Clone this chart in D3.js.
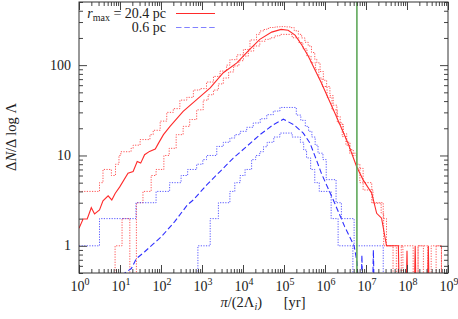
<!DOCTYPE html>
<html>
<head>
<meta charset="utf-8">
<script src="https://cdn.jsdelivr.net/npm/d3@7"></script>
<style>
  body{margin:0;background:#fff}
</style>
</head>
<body>
<svg id="chart" width="458" height="319" font-family="'Liberation Serif', 'DejaVu Serif', serif"></svg>
<script>
// x values are log10(pi/(2 Lambda_i) / yr), y values are dN/dlogLambda
// 0.1 / 0.3 = empty bin (drawn below the axis, clipped)
const redMidLx = [0, 0.1, 0.2, 0.3, 0.38, 0.5, 0.585, 0.71, 0.8, 0.885, 0.99, 1.195, 1.32, 1.42, 1.505, 1.6, 1.72, 1.86, 1.94, 2.06, 2.22, 2.54, 2.87, 3.2, 3.52, 3.85, 4.17, 4.41, 4.7, 4.93, 5.1, 5.27, 5.43, 5.59, 5.91, 6.24, 6.56, 6.77, 6.93, 7.14, 7.26, 7.38, 7.5, 7.79, 7.81, 7.98, 8.0, 8.02, 8.18, 8.2, 8.22, 8.5, 8.52, 8.54];
const redMidY  = [1.56, 1.98, 1.98, 2.64, 2.25, 2.49, 3.14, 3.57, 3.22, 3.82, 4.46, 6.37, 6.64, 8.58, 8.23, 10.2, 11.1, 11.8, 13.7, 17, 21, 30.8, 41.6, 56.1, 82.4, 106, 150, 193, 232, 249, 243, 215, 168, 126, 63.7, 29.6, 13.7, 7.55, 5.37, 3.82, 2.29, 2.02, 1, 1, 0.3, 0.3, 0.88, 0.3, 0.3, 1, 0.3, 0.3, 1, 0.3];

const redHiLx = [0, 0.5, 0.585, 0.79, 0.89, 0.975, 1.02, 1.27, 1.32, 1.49, 1.73, 1.81, 1.98, 2.14, 2.3, 2.46, 2.63, 2.79, 2.95, 3.11, 3.28, 3.44, 3.6, 3.68, 3.85, 4.01, 4.17, 4.33, 4.41, 4.5, 4.58, 4.66, 4.78, 4.9, 5.03, 5.15, 5.25, 5.35, 5.43, 5.51, 5.59, 5.67, 5.75, 5.8, 5.88, 5.96, 6.04, 6.12, 6.2, 6.29, 6.37, 6.45, 6.53, 6.61, 6.69, 6.77, 6.85, 7.14, 7.42, 7.5, 7.74, 7.86, 8.15, 8.27, 8.51, 8.59, 8.84];
const redHiY  = [4, 5, 7, 6, 8, 10, 11, 12, 13, 15, 17, 19, 24, 30, 33, 41, 44, 53, 55, 65, 75, 86, 100, 115, 130, 149, 190, 219, 239, 248, 255, 261, 265, 267, 265, 260, 240, 219, 200, 179, 163, 138, 116, 106, 85, 68, 58, 46, 36, 27, 22, 17.4, 14, 11.6, 10, 8, 5, 3, 2, 1, 0.1, 1, 0.1, 1, 0.1, 1, 0.1];

const redLoLx = [0.7, 0.88, 1.05, 1.24, 1.4, 1.56, 1.76, 1.88, 2.07, 2.2, 2.37, 2.54, 2.7, 2.87, 3.03, 3.15, 3.28, 3.4, 3.52, 3.65, 3.77, 3.9, 4.01, 4.13, 4.26, 4.41, 4.54, 4.66, 4.78, 4.9, 5.2, 5.36, 5.46, 5.56, 5.66, 5.77, 5.85, 5.93, 6.05, 6.17, 6.3, 6.42, 6.51, 6.6, 6.77, 6.93, 7.17, 7.37, 7.43, 7.66, 7.79, 7.9, 8.27, 8.4, 8.71, 8.84];
const redLoY  = [0.1, 1, 2, 0.1, 3, 4, 6, 7, 10, 12, 17, 21, 25, 32, 41, 47, 53, 62, 72, 84, 98, 112, 126, 143, 163, 184, 193, 201, 211, 219, 201, 178, 152, 126, 106, 89, 72, 58, 44, 32, 23, 16.2, 13, 10.6, 7.2, 4.15, 2.96, 2.3, 1, 0.1, 1, 0.1, 1, 0.1, 1, 0.1];

const blueMidLx = [1.0, 1.115, 1.276, 1.398, 1.602, 2.007, 2.334, 2.641, 2.788, 3.115, 3.439, 3.763, 4.09, 4.415, 4.739, 4.983, 5.24, 5.47, 5.634, 5.79, 5.91, 6.237, 6.48, 6.71, 6.78, 6.83, 6.88, 6.9, 6.92, 7.16, 7.18, 7.2];
const blueMidY  = [0.3, 0.5, 0.56, 0.72, 0.86, 1.26, 1.85, 2.83, 3.22, 4.72, 6.64, 9.35, 12.6, 17, 21.9, 25.2, 21.9, 17.7, 13.7, 8.96, 6.37, 2.96, 1.63, 1, 0.66, 0.3, 0.3, 0.79, 0.3, 0.3, 0.9, 0.3];

const blueHiLx = [0, 0.5, 1.39, 1.88, 2.21, 2.49, 2.65, 2.87, 3.02, 3.11, 3.36, 3.52, 3.68, 3.8, 3.93, 4.09, 4.25, 4.42, 4.58, 4.74, 4.9, 5.3, 5.41, 5.52, 5.6, 5.68, 5.76, 5.83, 5.95, 6.03, 6.27, 6.4, 6.71, 7.42];
const blueHiY  = [1, 2, 3, 4, 5, 6, 7, 8, 9, 10, 12.6, 14, 15.6, 17, 18.5, 20.5, 22.9, 25.5, 28.3, 31, 34, 28, 24.5, 21, 18.5, 16, 13, 10.6, 9, 5.4, 3, 2, 1, 0.1];

const blueLoLx = [2.7, 2.9, 3.2, 3.4, 3.68, 3.8, 3.93, 4.05, 4.21, 4.31, 4.41, 4.5, 4.59, 4.75, 4.9, 5.2, 5.4, 5.48, 5.55, 5.65, 5.75, 5.86, 6.15, 6.32, 6.68];
const blueLoY  = [0.1, 1, 2, 3, 4, 5, 6, 7, 9, 10, 11, 12.5, 14, 16, 17.7, 16, 14, 11.5, 9.4, 7, 5, 4, 2, 1, 0.1];

const markT = 6e6;           // vertical green line [yr]
const xMajor = [1e0, 1e1, 1e2, 1e3, 1e4, 1e5, 1e6, 1e7, 1e8, 1e9];
const xExp   = ['0','1','2','3','4','5','6','7','8','9'];
const yMajor = [1, 10, 100];
const yLabels = ['1', '10', '100'];

const svg = d3.select('#chart');
const L = 79, R = 448, T = 2, B = 273;
const x = d3.scaleLog().domain([1, 1e9]).range([L, R]);
const y = d3.scaleLog().domain([0.5, 500]).range([B, T]);

const pts = (lx, v) => lx.map((e, i) => [Math.pow(10, e), v[i]]);
const line = d3.line().x(d => x(d[0])).y(d => y(d[1]));
const step = d3.line().curve(d3.curveStepAfter).x(d => x(d[0])).y(d => y(d[1]));

svg.append('clipPath').attr('id', 'clip')
  .append('rect').attr('x', L).attr('y', T).attr('width', R - L).attr('height', B - T);

const plot = svg.append('g').attr('clip-path', 'url(#clip)');

const red = '#ff2a2a', blue = '#2f2fff';
const dot = '1.2,1.4';

[[redHiLx, redHiY, red], [redLoLx, redLoY, red], [blueHiLx, blueHiY, blue], [blueLoLx, blueLoY, blue]]
  .forEach(([lx, v, c]) => {
    plot.append('path').attr('d', step(pts(lx, v)))
      .attr('fill', 'none').attr('stroke', c).attr('stroke-width', 1)
      .attr('stroke-dasharray', dot).attr('opacity', 0.8);
  });

plot.append('path').attr('d', line(pts(blueMidLx, blueMidY)))
  .attr('fill', 'none').attr('stroke', blue).attr('stroke-width', 1.1).attr('stroke-dasharray', '5.5,2.8');
plot.append('path').attr('d', line(pts(redMidLx, redMidY)))
  .attr('fill', 'none').attr('stroke', red).attr('stroke-width', 1.1);

plot.append('line').attr('x1', x(markT)).attr('x2', x(markT)).attr('y1', T).attr('y2', B)
  .attr('stroke', '#5fa85a').attr('stroke-width', 1.6);

// ticks (inward, mirrored)
const xMinor = [], yMinor = [];
for (let k = 0; k < 9; k++) for (let m = 2; m < 10; m++) xMinor.push(m * Math.pow(10, k));
for (let k = -1; k < 3; k++) for (let m = 2; m < 10; m++) {
  const v = m * Math.pow(10, k);
  if (v >= 0.5 && v <= 500) yMinor.push(v);
}
function addAxis(axis, tx, ty) {
  const g = svg.append('g').attr('transform', `translate(${tx},${ty})`).call(axis);
  g.select('.domain').remove();
  g.selectAll('line').attr('stroke', '#444');
  return g;
}
addAxis(d3.axisBottom(x).tickValues(xMajor).tickSize(-8).tickFormat(''), 0, B);
addAxis(d3.axisBottom(x).tickValues(xMinor).tickSize(-4).tickFormat(''), 0, B);
addAxis(d3.axisTop(x).tickValues(xMajor).tickSize(-8).tickFormat(''), 0, T);
addAxis(d3.axisTop(x).tickValues(xMinor).tickSize(-4).tickFormat(''), 0, T);
addAxis(d3.axisLeft(y).tickValues(yMajor).tickSize(-8).tickFormat(''), L, 0);
addAxis(d3.axisLeft(y).tickValues(yMinor).tickSize(-4).tickFormat(''), L, 0);
addAxis(d3.axisRight(y).tickValues(yMajor).tickSize(-8).tickFormat(''), R, 0);
addAxis(d3.axisRight(y).tickValues(yMinor).tickSize(-4).tickFormat(''), R, 0);

svg.append('rect').attr('x', L).attr('y', T).attr('width', R - L).attr('height', B - T)
  .attr('fill', 'none').attr('stroke', '#333').attr('stroke-width', 1);

const txt = sel => sel.attr('font-family', "'Liberation Serif', 'DejaVu Serif', serif").attr('fill', '#222');

// tick labels
const xl = svg.append('g').selectAll('text').data(xMajor).join('text').call(txt)
  .attr('x', d => x(d) + 1).attr('y', 291).attr('text-anchor', 'middle').attr('font-size', 14);
xl.append('tspan').text('10');
xl.append('tspan').attr('dy', -6).attr('font-size', 10).text((d, i) => xExp[i]);

svg.append('g').selectAll('text').data(yMajor).join('text').call(txt)
  .attr('x', 71).attr('y', d => y(d)).attr('dy', '0.33em').attr('text-anchor', 'end')
  .attr('font-size', 14).text((d, i) => yLabels[i]);

// axis titles
const xt = svg.append('text').call(txt).attr('x', 263).attr('y', 307).attr('text-anchor', 'middle').attr('font-size', 14.5);
xt.append('tspan').attr('font-style', 'italic').text('π');
xt.append('tspan').text('/(2Λ');
xt.append('tspan').attr('font-style', 'italic').attr('font-size', 10).attr('dy', 3).text('i');
xt.append('tspan').attr('dy', -3).text(')\u2003\u2002[yr]');

const yt = svg.append('text').call(txt).attr('transform', 'translate(16,137) rotate(-90)')
  .attr('text-anchor', 'middle').attr('font-size', 14.5);
yt.append('tspan').text('Δ');
yt.append('tspan').attr('font-style', 'italic').text('N');
yt.append('tspan').text('/Δ log Λ');

// legend
const lg = svg.append('g');
const t1 = lg.append('text').call(txt).attr('x', 166).attr('y', 17.5).attr('text-anchor', 'end').attr('font-size', 14);
t1.append('tspan').attr('font-style', 'italic').text('r');
t1.append('tspan').attr('font-size', 10).attr('dy', 3).text('max');
t1.append('tspan').attr('dy', -3).text(' = 20.4 pc');
lg.append('text').call(txt).attr('x', 166).attr('y', 31.5).attr('text-anchor', 'end').attr('font-size', 14).text('0.6 pc');
lg.append('line').attr('x1', 176).attr('x2', 215).attr('y1', 13.5).attr('y2', 13.5)
  .attr('stroke', red).attr('stroke-width', 1.2);
lg.append('line').attr('x1', 176).attr('x2', 215).attr('y1', 27.5).attr('y2', 27.5)
  .attr('stroke', blue).attr('stroke-width', 1.2).attr('stroke-dasharray', '5.5,2.8').attr('opacity', 0.6);
</script>
</body>
</html>
